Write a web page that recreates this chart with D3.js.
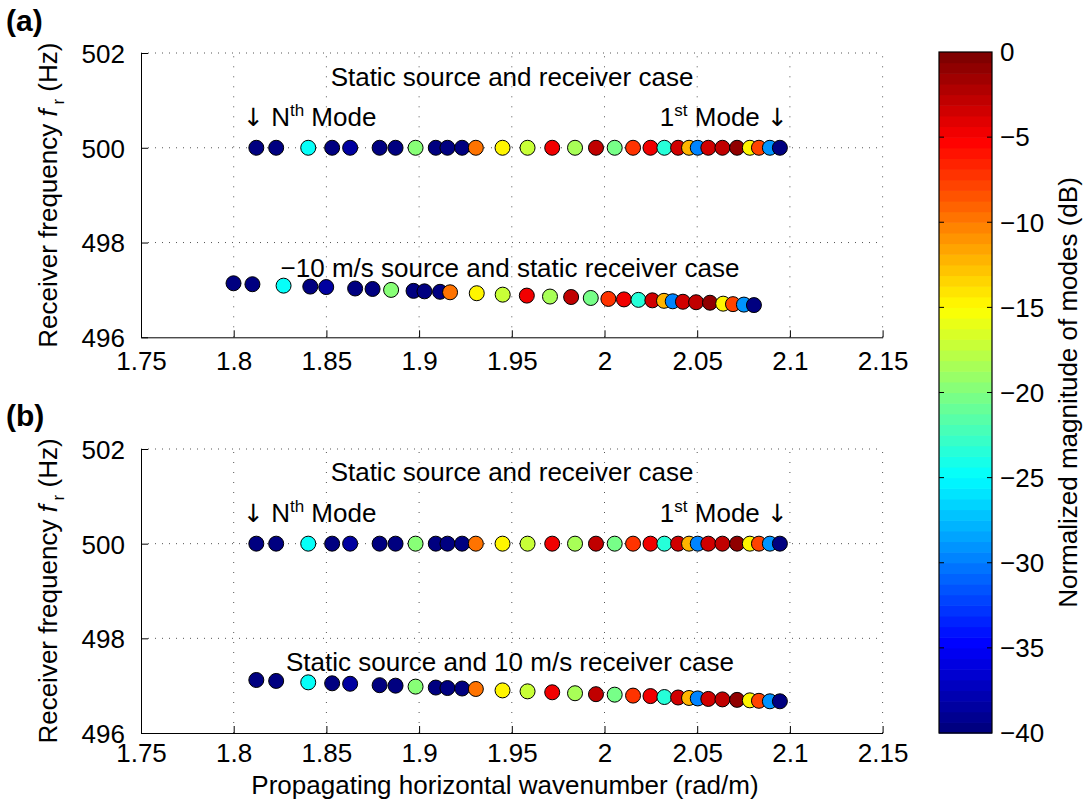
<!DOCTYPE html>
<html><head><meta charset="utf-8">
<script src="https://cdn.jsdelivr.net/npm/d3@7"></script>
<style>
body{margin:0;background:#fff;}
svg{display:block;font-family:"Liberation Sans",Arial,Helvetica,sans-serif;}
</style></head>
<body><svg id="chart" width="1086" height="808"></svg>
<script>
// ---- data ----
const kStatic = [1.8122,1.8229,1.8402,1.8531,1.8628,1.8787,1.8873,1.8981,1.9090,1.9153,1.9232,1.9306,1.9450,1.9585,1.9718,1.9841,1.9954,2.0055,2.0154,2.0248,2.0323,2.0397,2.0456,2.0503,2.0560,2.0636,2.0715,2.0784,2.0833,2.0892,2.0946];
const fStatic = [500,500,500,500,500,500,500,500,500,500,500,500,500,500,500,500,500,500,500,500,500,500,500,500,500,500,500,500,500,500,500];
const kMovingSource = [1.7999,1.8101,1.8269,1.8413,1.8499,1.8655,1.8749,1.8849,1.8970,1.9029,1.9113,1.9167,1.9311,1.9451,1.9581,1.9706,1.9820,1.9926,2.0021,2.0105,2.0183,2.0258,2.0321,2.0368,2.0423,2.0494,2.0569,2.0640,2.0693,2.0752,2.0806];
const fMovingSource = [497.14,497.12,497.09,497.07,497.06,497.03,497.02,497.00,496.98,496.97,496.96,496.95,496.93,496.90,496.88,496.86,496.85,496.83,496.81,496.80,496.79,496.78,496.77,496.76,496.75,496.74,496.73,496.71,496.70,496.69,496.68];
const fMovingReceiver = [497.12,497.10,497.07,497.05,497.04,497.01,497.00,496.98,496.96,496.95,496.94,496.93,496.90,496.88,496.86,496.84,496.82,496.81,496.79,496.78,496.76,496.75,496.74,496.73,496.72,496.71,496.70,496.69,496.68,496.67,496.67];
const modeDb = [-40,-40,-25,-40,-38.5,-40,-40,-20,-40,-40,-40,-10,-15,-17,-5,-18.5,-3,-20.5,-7.5,-5,-23.5,-3.5,-12,-30,-3.5,-3,-1,-14.5,-8,-29,-39.5];
const xTicks = [1.75,1.8,1.85,1.9,1.95,2,2.05,2.1,2.15];
const xTickLabels = ["1.75","1.8","1.85","1.9","1.95","2","2.05","2.1","2.15"];
const yTicks = [496,498,500,502];
const cbTicks = [0,-5,-10,-15,-20,-25,-30,-35,-40];

// ---- helpers ----
const svg = d3.select("#chart");
const FS = 26;
function jet(t){
  const c = v => Math.max(0, Math.min(1, v));
  const r = c(1.5 - Math.abs(4*t - 3)), g = c(1.5 - Math.abs(4*t - 2)), b = c(1.5 - Math.abs(4*t - 1));
  return d3.rgb(r*255, g*255, b*255).formatHex();
}
const NLEV = 64;
const levelScale = d3.scaleQuantize().domain([-40,0]).range(d3.range(NLEV));
const colorOf = v => jet(levelScale(v)/(NLEV-1));

const x = d3.scaleLinear().domain([1.75,2.15]).range([141,882.6]);

const panels = [
  {label:"(a)", top:53, bottom:337.3, labelY:33, pad:14,
   rows:[{k:kStatic,f:fStatic},{k:kMovingSource,f:fMovingSource}],
   texts:[{t:"Static source and receiver case",x:512,y:86},
          {t:"\u221210 m/s source and static receiver case",x:510,y:277}]},
  {label:"(b)", top:449, bottom:733, labelY:428, pad:10,
   rows:[{k:kStatic,f:fStatic},{k:kStatic,f:fMovingReceiver}],
   texts:[{t:"Static source and receiver case",x:512,y:481},
          {t:"Static source and 10 m/s receiver case",x:510,y:671}]}
];

panels.forEach((p,pi) => {
  const y = d3.scaleLinear().domain([496,502]).range([p.bottom,p.top]);
  const g = svg.append("g");
  // grid
  g.selectAll(".vg").data(xTicks.slice(1)).join("line")
    .attr("x1",d=>x(d)).attr("x2",d=>x(d)).attr("y1",p.bottom).attr("y2",p.top)
    .attr("stroke","#555").attr("stroke-width",1).attr("stroke-dasharray","1,9");
  g.selectAll(".hg").data(yTicks.slice(1)).join("line")
    .attr("x1",141).attr("x2",882.6).attr("y1",d=>y(d)).attr("y2",d=>y(d))
    .attr("stroke","#555").attr("stroke-width",1).attr("stroke-dasharray","1,6");
  // axes
  const xa = d3.axisBottom(x).tickValues(xTicks).tickFormat((d,i)=>xTickLabels[i]).tickSizeInner(-7).tickSizeOuter(0).tickPadding(p.pad);
  const gx = g.append("g").attr("transform",`translate(0,${p.bottom})`).call(xa);
  gx.select(".domain").attr("stroke","#000");
  gx.selectAll("text").attr("font-size",FS).attr("fill","#000").attr("dy","0.72em");
  gx.selectAll("line").attr("stroke","#000");
  const ya = d3.axisLeft(y).tickValues(yTicks).tickFormat(d3.format("d")).tickSizeInner(-7).tickSizeOuter(0).tickPadding(16);
  const gy = g.append("g").attr("transform","translate(141,0)").call(ya);
  gy.select(".domain").attr("stroke","#000");
  gy.selectAll("text").attr("font-size",FS).attr("fill","#000").attr("dy","0.36em");
  gy.selectAll("line").attr("stroke","#000");
  gx.attr("font-family",null); gy.attr("font-family",null);
  // points
  p.rows.forEach(r => {
    g.append("g").selectAll("circle").data(r.k.map((k,i)=>({k,f:r.f[i],db:modeDb[i]}))).join("circle")
      .attr("cx",d=>x(d.k)).attr("cy",d=>y(d.f)).attr("r",7.5)
      .attr("fill",d=>colorOf(d.db)).attr("stroke","#000").attr("stroke-width",1);
  });
  // texts
  p.texts.forEach(t => g.append("text").attr("x",t.x).attr("y",t.y).attr("text-anchor","middle")
    .attr("font-size",FS).text(t.t));
  const my = p.top + 73;
  const n = g.append("text").attr("x",243).attr("y",my).attr("font-size",FS);
  n.append("tspan").attr("font-family","DejaVu Sans").attr("font-size",25).text("\u2193");
  n.append("tspan").text(" N");
  n.append("tspan").attr("font-size",17).attr("dy",-10).text("th");
  n.append("tspan").attr("dy",10).text(" Mode");
  const m = g.append("text").attr("x",788).attr("y",my).attr("font-size",FS).attr("text-anchor","end");
  m.append("tspan").text("1");
  m.append("tspan").attr("font-size",17).attr("dy",-10).text("st");
  m.append("tspan").attr("dy",10).text(" Mode ");
  m.append("tspan").attr("font-family","DejaVu Sans").attr("font-size",25).text("\u2193");
  // panel label
  svg.append("text").attr("x",6).attr("y",p.labelY-2).attr("font-size",30).attr("font-weight","bold").text(p.label);
  // y axis title
  const cy = (p.top+p.bottom)/2;
  const yt = svg.append("text").attr("transform",`translate(57,${cy}) rotate(-90)`).attr("text-anchor","middle").attr("font-size",FS);
  yt.append("tspan").text("Receiver frequency  ");
  yt.append("tspan").attr("font-style","italic").text("f");
  yt.append("tspan").attr("font-size",17).attr("dy",7).text(" r");
  yt.append("tspan").attr("dy",-7).text(" (Hz)");
});

// x axis title
svg.append("text").attr("x",505).attr("y",794).attr("text-anchor","middle").attr("font-size",FS)
  .text("Propagating horizontal wavenumber (rad/m)");

// colorbar
const cbX = 939, cbW = 53, cbTop = 52, cbBot = 733;
const cy = d3.scaleLinear().domain([-40,0]).range([cbBot,cbTop]);
const cb = svg.append("g");
const step = 40/NLEV;
cb.selectAll("rect.lv").data(d3.range(NLEV)).join("rect")
  .attr("x",cbX).attr("width",cbW)
  .attr("y",i=>cy(-40+(i+1)*step)).attr("height",i=>cy(-40+i*step)-cy(-40+(i+1)*step)+0.6)
  .attr("fill",i=>jet(i/(NLEV-1)));
cb.append("rect").attr("x",cbX).attr("y",cbTop).attr("width",cbW).attr("height",cbBot-cbTop)
  .attr("fill","none").attr("stroke","#000").attr("stroke-width",1.2);
cb.selectAll("line.tl").data(cbTicks.slice(1,-1)).join("line")
  .attr("x1",cbX).attr("x2",cbX+5).attr("y1",d=>cy(d)).attr("y2",d=>cy(d)).attr("stroke","#000");
cb.selectAll("line.tr").data(cbTicks.slice(1,-1)).join("line")
  .attr("x1",cbX+cbW-5).attr("x2",cbX+cbW).attr("y1",d=>cy(d)).attr("y2",d=>cy(d)).attr("stroke","#000");
cb.selectAll("text").data(cbTicks).join("text")
  .attr("x",1000).attr("y",d=>cy(d)).attr("dy","0.36em").attr("font-size",FS)
  .text(d=> d<0 ? "\u2212"+Math.abs(d) : String(d));
svg.append("text").attr("transform",`translate(1077,${(cbTop+cbBot)/2}) rotate(-90)`)
  .attr("text-anchor","middle").attr("font-size",FS).text("Normalized magnitude of modes (dB)");
</script></body></html>
